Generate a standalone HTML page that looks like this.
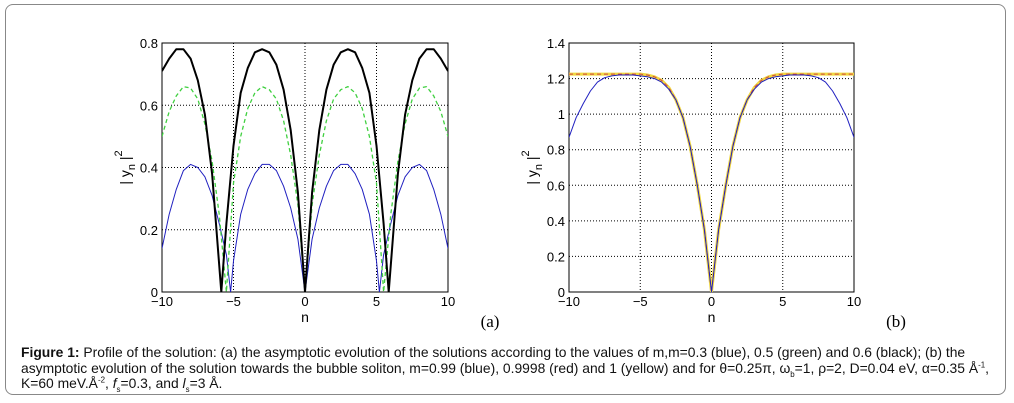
<!DOCTYPE html>
<html><head><meta charset="utf-8"><style>
body{margin:0;background:#fff;width:1014px;height:403px;overflow:hidden;font-family:"Liberation Sans",sans-serif}
#frame{position:absolute;left:5px;top:4px;width:1001px;height:391px;border:1px solid #888;border-radius:8px;box-sizing:border-box}
#cap{position:absolute;left:21px;top:345px;font-size:14px;line-height:15.5px;color:#111;transform:scaleX(0.99);transform-origin:0 0;white-space:nowrap}
#cap sub,#cap sup{font-size:8px;line-height:0}
</style></head><body>
<div id="frame"></div>
<svg id="s" width="1014" height="403" style="position:absolute;left:0;top:0"></svg>
<div id="cap"><b>Figure 1:</b> Profile of the solution: (a) the asymptotic evolution of the solutions according to the values of m,m=0.3 (blue), 0.5 (green) and 0.6 (black); (b) the<br>asymptotic evolution of the solution towards the bubble soliton, m=0.99 (blue), 0.9998 (red) and 1 (yellow) and for θ=0.25π, ω<sub>b</sub>=1, ρ=2, D=0.04 eV, α=0.35 Å<sup>-1</sup>,<br>K=60 meV.Å<sup>-2</sup>, <i>f</i><sub>s</sub>=0.3, and <i>l</i><sub>s</sub>=3 Å.</div>
<script>
// positive-n halves (mirrored for negative n)
const nBlackA=[0,.5,1,1.5,2,2.5,3,3.5,4,4.5,5,5.5,5.85,6.5,7,7.5,8,8.5,9,9.5,10];
const blackA=[0,.32,.52,.65,.73,.77,.78,.77,.72,.64,.47,.22,0,.38,.57,.68,.75,.78,.78,.75,.71];
const nGreenA=[0,.5,1,1.5,2,2.5,3,3.5,4,4.5,5,5.5,6,6.5,7,7.5,8,8.5,9,9.5,10];
const greenA=[0,.28,.44,.55,.62,.65,.66,.64,.59,.5,.35,0,.25,.42,.54,.62,.655,.66,.63,.58,.5];
const nBlueA=[0,.5,1,1.5,2,2.5,3,3.5,4,4.5,5,5.2,5.5,6,6.5,7,7.5,8,8.5,9,9.5,10];
const blueA=[0,.17,.27,.34,.39,.41,.41,.38,.33,.25,.1,0,.12,.22,.31,.37,.4,.41,.39,.33,.25,.14];
const nB=[0,.5,1,1.5,2,2.5,3,3.5,4,4.5,5,5.5,6,6.5,7,7.5,8,8.5,9,9.5,10];
const blueB=[0,.35,.6,.82,.98,1.08,1.14,1.18,1.2,1.21,1.215,1.22,1.22,1.22,1.215,1.205,1.18,1.13,1.06,.98,.87];
const redB=[0,.35,.6,.82,.98,1.08,1.15,1.19,1.21,1.22,1.225,1.225,1.225,1.225,1.225,1.225,1.225,1.225,1.225,1.225,1.225];
const yellowB=[0,.35,.6,.82,.98,1.08,1.15,1.19,1.21,1.22,1.225,1.225,1.225,1.225,1.225,1.225,1.225,1.225,1.225,1.225,1.225];
const xTicks=[-10,-5,0,5,10];
const yTicksA=[0,0.2,0.4,0.6,0.8];
const yTicksB=[0,0.2,0.4,0.6,0.8,1,1.2,1.4];
const S=document.getElementById('s');const NS='http://www.w3.org/2000/svg';
function el(t,a,p){const e=document.createElementNS(NS,t);for(const k in a)e.setAttribute(k,a[k]);(p||S).appendChild(e);return e;}
function full(nh,v){const xs=[],ys=[];for(let i=nh.length-1;i>0;i--){xs.push(-nh[i]);ys.push(v[i]);}for(let i=0;i<nh.length;i++){xs.push(nh[i]);ys.push(v[i]);}return [xs,ys];}
function chart(name,L,R,T,B,ymax,yt,series,lab){
 const g=el('g',{});
 const X=v=>L+(v+10)/20*(R-L),Y=v=>B-v/ymax*(B-T);
 for(const t of xTicks){if(t>-10&&t<10){const l=el('line',{x1:X(t),x2:X(t),y1:T,y2:B,stroke:'#000','stroke-dasharray':'1,2','stroke-width':1},g);}
  const tx=el('text',{x:X(t),y:B+14,'text-anchor':'middle','font-size':13},g);tx.textContent=t<0?'\u2212'+(-t):t;}
 for(const t of yt){if(t>0&&t<ymax){const l=el('line',{x1:L,x2:R,y1:Y(t),y2:Y(t),stroke:'#000','stroke-dasharray':'1,2','stroke-width':1},g);}
  const tx=el('text',{x:L-4,y:Y(t)+5,'text-anchor':'end','font-size':13},g);tx.textContent=String(t);}
 const fr=el('rect',{x:L,y:T,width:R-L,height:B-T,fill:'none',stroke:'#000','stroke-width':1},g);
 const cp=el('clipPath',{id:'c'+name},g);el('rect',{x:L,y:T-3,width:R-L,height:B-T+3},cp);
 for(const s of series){const [xs,ys]=full(s.x,s.v);let d='';xs.forEach((x,i)=>{d+=(i?'L':'M')+X(x).toFixed(1)+','+Y(ys[i]).toFixed(1);});
  const p=el('path',{d:d,fill:'none',stroke:s.c,'stroke-width':s.w,'stroke-dasharray':s.da||'none','clip-path':'url(#c'+name+')','stroke-linejoin':'round'},g);}
 const xl=el('text',{x:(L+R)/2,y:B+30,'text-anchor':'middle','font-size':14},g);xl.textContent='n';
 const yl=el('text',{transform:`translate(${L-32},${(T+B)/2}) rotate(-90)`,'text-anchor':'middle','font-size':14},g);yl.innerHTML='| y<tspan dy="5" font-size="11">n</tspan><tspan dy="-5"> |</tspan><tspan dy="-8" font-size="11">2</tspan>';
 const pl=el('text',{x:R+42,y:B+35,'text-anchor':'middle','font-size':17,'font-family':'Liberation Serif,serif'},g);pl.textContent=lab;
}
chart('chart-a',162,448,43,292,0.8,yTicksA,[
 {x:nBlueA,v:blueA,c:'#2020c0',w:1,n:'series-blue-m03'},
 {x:nGreenA,v:greenA,c:'#40d040',w:1.3,da:'4,3',n:'series-green-m05'},
 {x:nBlackA,v:blackA,c:'#000',w:2,n:'series-black-m06'}],'(a)');
chart('chart-b',569,854,43,292,1.4,yTicksB,[
 {x:nB,v:yellowB,c:'#f0d840',w:3,n:'series-yellow-m1'},
 {x:nB,v:redB,c:'#d04040',w:1,da:'4,3',n:'series-red-m09998'},
 {x:nB,v:blueB,c:'#2020c0',w:1,n:'series-blue-m099'}],'(b)');
</script>
</body></html>
